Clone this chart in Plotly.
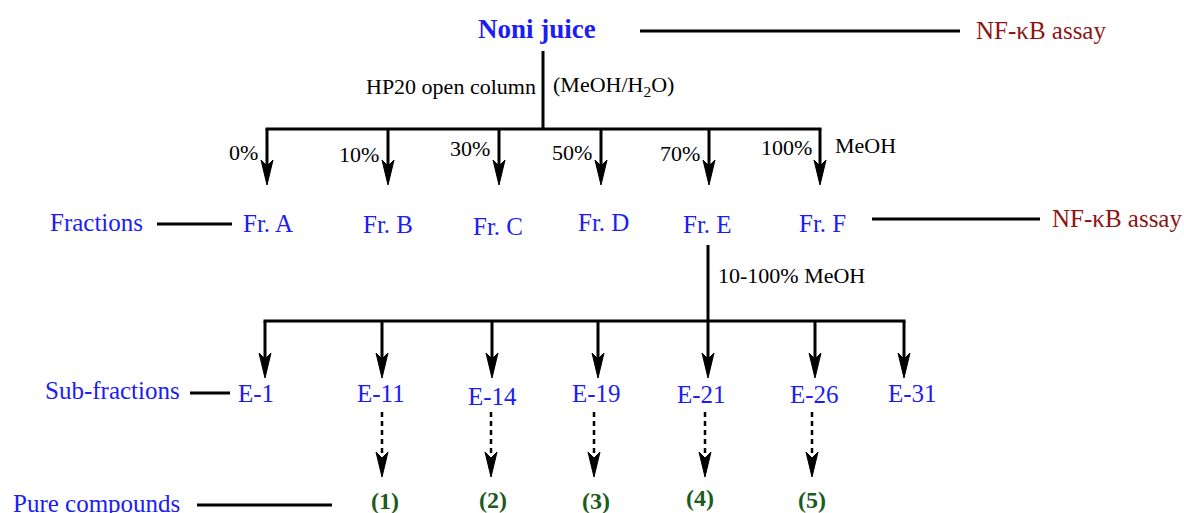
import plotly.graph_objects as go

# ---------------- data (labels) ----------------
source_label = "Noni juice"
assay_label = "NF-\u03baB assay"
column_left = "HP20 open column"
column_right = "(MeOH/H<sub>2</sub>O)"
fraction_names = ["Fr. A", "Fr. B", "Fr. C", "Fr. D", "Fr. E", "Fr. F"]
meoh_percent = ["0%", "10%", "30%", "50%", "70%", "100%"]
subfraction_names = ["E-1", "E-11", "E-14", "E-19", "E-21", "E-26", "E-31"]
compound_names = ["(1)", "(2)", "(3)", "(4)", "(5)"]
compound_sources = ["E-11", "E-14", "E-19", "E-21", "E-26"]
row_labels = ["Fractions", "Sub-fractions", "Pure compounds"]
gradient_label = "10-100% MeOH"

# ---------------- layout constants ----------------
W, H = 1184, 513
FONT = "Liberation Serif, Times New Roman, serif"
BLUE = "#1c1cf5"
RED = "#8e1414"
GREEN = "#1d5a1d"
BLACK = "#000000"

frac_arrow_x = [267, 388, 499, 601, 709, 820]
frac_label_pos = [(268, 223), (388, 224), (498, 226), (603, 222), (707, 224), (822, 223)]
pct_pos = [(259, 152), (380, 154), (491, 148), (593, 152), (701, 153), (813, 147)]
sub_arrow_x = [265, 382, 492, 598, 708, 815, 904]
sub_label_pos = [(256, 393), (381, 393), (492, 396), (596, 393), (701, 394), (814, 394), (912, 393)]
dash_x = [382, 491, 594, 705, 812]
comp_pos = [(385, 501), (493, 500), (596, 501), (700, 498), (812, 500)]

shapes = []
annotations = []


def line(x0, y0, x1, y1, width=3, dash=None):
    shapes.append(dict(type="line", xref="x", yref="y", x0=x0, y0=y0, x1=x1, y1=y1,
                       line=dict(color=BLACK, width=width, dash=dash)))


def head(x, tip, length=25, half=6, notch=6):
    base = tip - length
    path = (f"M {x - half},{base} L {x},{tip} L {x + half},{base} "
            f"L {x},{base + notch} Z")
    shapes.append(dict(type="path", xref="x", yref="y", path=path,
                       fillcolor=BLACK, line=dict(color=BLACK, width=1)))


def text(x, y, s, size, color=BLACK, anchor="center", bold=False):
    if bold:
        s = f"<b>{s}</b>"
    annotations.append(dict(x=x, y=y, xref="x", yref="y", text=s, showarrow=False,
                            xanchor=anchor, yanchor="middle", borderpad=0,
                            font=dict(family=FONT, size=size, color=color)))


# top
text(537, 29, source_label, 27, BLUE, bold=True)
line(640, 31, 960, 31)
text(975, 30, assay_label, 25, RED, anchor="left")
line(543, 51, 543, 129)
text(537, 86, column_left, 22, anchor="right")
text(552, 86, column_right, 22, anchor="left")

# fractions
line(265.5, 129, 821.5, 129)
for x in frac_arrow_x:
    line(x, 129, x, 170)
    head(x, 185)
for (px, py), p in zip(pct_pos, meoh_percent):
    text(px, py, p, 22, anchor="right")
text(834, 145, "MeOH", 22, anchor="left")

text(144, 222, row_labels[0], 25, BLUE, anchor="right")
line(157, 224, 232, 224)
for (fx, fy), n in zip(frac_label_pos, fraction_names):
    text(fx, fy, n, 25, BLUE)
line(872, 219, 1040, 219)
text(1051, 218, assay_label, 25, RED, anchor="left")

# sub fractions
line(708, 245, 708, 321)
text(717, 275, gradient_label, 22, anchor="left")
line(263.5, 321, 905.5, 321)
for x in sub_arrow_x:
    line(x, 321, x, 362)
    head(x, 378)
text(181, 390, row_labels[1], 25, BLUE, anchor="right")
line(190, 393, 230, 393)
for (sx, sy), n in zip(sub_label_pos, subfraction_names):
    text(sx, sy, n, 25, BLUE)

# pure compounds
for x in dash_x:
    line(x, 412, x, 462, width=2.5, dash="5px,4px")
    head(x, 477)
for (cx, cy), n in zip(comp_pos, compound_names):
    text(cx, cy, n, 24, GREEN, bold=True)
text(12, 503, row_labels[2], 25, BLUE, anchor="left")
line(197, 505, 332, 505)

fig = go.Figure()
fig.add_trace(go.Scatter(x=[0, W], y=[0, H], mode="markers",
                         marker=dict(opacity=0), hoverinfo="skip", showlegend=False))
fig.update_layout(
    width=W, height=H, margin=dict(l=0, r=0, t=0, b=0),
    paper_bgcolor="white", plot_bgcolor="white",
    xaxis=dict(range=[0, W], visible=False, fixedrange=True),
    yaxis=dict(range=[H, 0], visible=False, fixedrange=True),
    shapes=shapes, annotations=annotations, showlegend=False,
)
fig.write_html(
    "out.html",
    config={"displayModeBar": False},
    post_script="document.body.style.margin='0';"
                "document.documentElement.style.overflow='hidden';"
                "document.body.style.overflow='hidden';",
)
